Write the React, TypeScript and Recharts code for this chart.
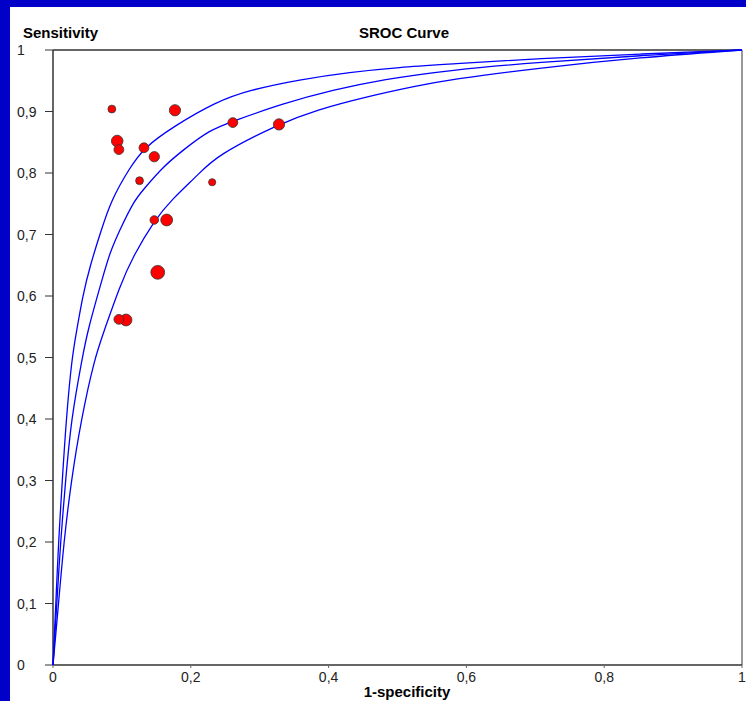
import { ComposedChart, Scatter, XAxis, YAxis, ZAxis, ReferenceLine } from 'recharts';

// study points: 1-specificity, sensitivity, weight
const studyFpr = [0.0854, 0.177, 0.0932, 0.0956, 0.132, 0.147, 0.261, 0.328, 0.1256, 0.231, 0.147, 0.165, 0.152, 0.106, 0.0956];
const studyTpr = [0.904, 0.902, 0.852, 0.838, 0.841, 0.8265, 0.882, 0.879, 0.7875, 0.785, 0.7236, 0.7236, 0.6385, 0.561, 0.562];
const studyWeight = [24, 50, 53, 38, 38, 42, 38, 50, 24, 20, 29, 55, 75, 55, 38];

// SROC curves (outer, middle, inner)
const outerX = [0, 0.0041, 0.008, 0.0134, 0.0192, 0.0273, 0.0346, 0.043, 0.054, 0.07, 0.0845, 0.1111, 0.1319, 0.174, 0.237, 0.2854, 0.358, 0.4306, 0.503, 0.576, 0.7066, 0.852, 1];
const outerY = [0, 0.0992, 0.2, 0.299, 0.4, 0.499, 0.545, 0.6, 0.65, 0.707, 0.756, 0.808, 0.841, 0.875, 0.916, 0.935, 0.952, 0.964, 0.972, 0.977, 0.9865, 0.9935, 1];

const middleX = [0, 0.0055, 0.0109, 0.0182, 0.0264, 0.0424, 0.0505, 0.0723, 0.0821, 0.0966, 0.1184, 0.1304, 0.1595, 0.1885, 0.2273, 0.2607, 0.3338, 0.4064, 0.479, 0.576, 0.7066, 0.852, 1];
const middleY = [0, 0.099, 0.2, 0.299, 0.4, 0.499, 0.545, 0.631, 0.669, 0.707, 0.756, 0.772, 0.81, 0.837, 0.87, 0.884, 0.913, 0.935, 0.952, 0.9675, 0.98, 0.991, 1];

const innerX = [0, 0.008, 0.0157, 0.0264, 0.041, 0.0603, 0.0748, 0.0966, 0.1159, 0.1474, 0.1717, 0.2128, 0.237, 0.328, 0.3823, 0.455, 0.5275, 0.576, 0.7066, 0.852, 1];
const innerY = [0, 0.099, 0.2, 0.299, 0.4, 0.499, 0.545, 0.615, 0.664, 0.7236, 0.756, 0.7995, 0.828, 0.88, 0.9024, 0.924, 0.9415, 0.952, 0.971, 0.988, 1];

const xTicks = [0, 0.2, 0.4, 0.6, 0.8, 1];
const yTicks = [0, 0.1, 0.2, 0.3, 0.4, 0.5, 0.6, 0.7, 0.8, 0.9, 1];

const toPoints = (xs: number[], ys: number[]) => xs.map((x, i) => ({ x, y: ys[i] }));

const studies = studyFpr.map((x, i) => ({ x, y: studyTpr[i], w: studyWeight[i] }));
const curves = [toPoints(outerX, outerY), toPoints(middleX, middleY), toPoints(innerX, innerY)];

const fmt = (v: number) => String(Math.round(v * 10) / 10).replace('.', ',');
const font = '"Liberation Sans", Arial, sans-serif';

const XTick = (props: any) => (
  <text x={props.x} y={props.y + 12} textAnchor="middle" fontSize={14} fontFamily={font} fill="#222">
    {fmt(props.payload.value)}
  </text>
);

const YTick = (props: any) => (
  <text x={props.x - 26} y={props.y + 5} textAnchor="start" fontSize={14} fontFamily={font} fill="#222">
    {fmt(props.payload.value)}
  </text>
);

const noDot = () => <g />;

export default function App() {
  return (
    <div style={{ position: 'absolute', left: 0, top: 0, width: 746, height: 701, background: '#0000C8' }}>
      <div style={{ position: 'absolute', left: 10, top: 7, width: 736, height: 694, background: '#fff' }} />
      <div style={{ position: 'absolute', left: 0, top: 0 }}>
        <ComposedChart width={746} height={701} margin={{ top: 50, right: 4, bottom: 6, left: 13 }}>
          <XAxis
            type="number"
            dataKey="x"
            domain={[0, 1]}
            ticks={xTicks}
            tickSize={3}
            height={30}
            tick={<XTick />}
            axisLine={{ stroke: '#333', strokeWidth: 1.5 }}
            tickLine={{ stroke: '#666' }}
          />
          <YAxis
            type="number"
            dataKey="y"
            domain={[0, 1]}
            ticks={yTicks}
            tickSize={8}
            width={40}
            tick={<YTick />}
            axisLine={{ stroke: '#333', strokeWidth: 1.5 }}
            tickLine={{ stroke: '#333' }}
          />
          <ZAxis type="number" dataKey="w" domain={[0, 100]} range={[0, 200]} />
          <ReferenceLine y={1} stroke="#333" strokeWidth={1.5} />
          <ReferenceLine x={1} stroke="#777" strokeWidth={1.5} />
          {curves.map((c, i) => (
            <Scatter
              key={i}
              data={c}
              line={{ stroke: '#0000FF', strokeWidth: 1.3 }}
              lineJointType="basis"
              shape={noDot}
              isAnimationActive={false}
            />
          ))}
          <Scatter data={studies} fill="#FF0000" stroke="#333" strokeWidth={0.8} isAnimationActive={false} />
          <text x={23} y={38} fontSize={15} fontWeight="bold" fontFamily={font} fill="#000">Sensitivity</text>
          <text x={404} y={38} textAnchor="middle" fontSize={15} fontWeight="bold" fontFamily={font} fill="#000">SROC Curve</text>
          <text x={407} y={697} textAnchor="middle" fontSize={15} fontWeight="bold" fontFamily={font} fill="#000">1-specificity</text>
        </ComposedChart>
      </div>
    </div>
  );
}
